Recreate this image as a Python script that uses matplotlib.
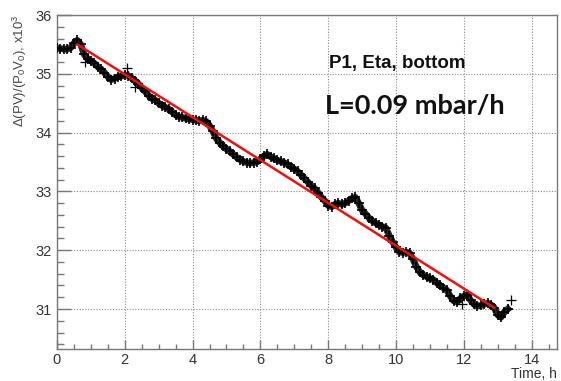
import matplotlib
matplotlib.use("Agg")
import matplotlib.pyplot as plt
from matplotlib.ticker import MultipleLocator

plt.rcParams['font.family'] = ['Liberation Sans', 'DejaVu Sans']
plt.rcParams['mathtext.fontset'] = 'custom'
plt.rcParams['mathtext.rm'] = 'Liberation Sans'
plt.rcParams['mathtext.it'] = 'Liberation Sans'

# time (h)
time_h = [0.0, 0.1, 0.2, 0.3, 0.4, 0.5, 0.6, 0.7, 0.8, 0.9,
          1.0, 1.1, 1.2, 1.3, 1.4, 1.5, 1.6, 1.7, 1.8, 1.9,
          2.0, 2.1, 2.2, 2.3, 2.4, 2.5, 2.6, 2.7, 2.8, 2.9,
          3.0, 3.1, 3.2, 3.3, 3.4, 3.5, 3.6, 3.7, 3.8, 3.9,
          4.0, 4.1, 4.2, 4.3, 4.4, 4.5, 4.6, 4.7, 4.8, 4.9,
          5.0, 5.1, 5.2, 5.3, 5.4, 5.5, 5.6, 5.7, 5.8, 5.9,
          6.0, 6.1, 6.2, 6.3, 6.4, 6.5, 6.6, 6.7, 6.8, 6.9,
          7.0, 7.1, 7.2, 7.3, 7.4, 7.5, 7.6, 7.7, 7.8, 7.9,
          8.0, 8.1, 8.2, 8.3, 8.4, 8.5, 8.6, 8.7, 8.8, 8.9,
          9.0, 9.1, 9.2, 9.3, 9.4, 9.5, 9.6, 9.7, 9.8, 9.9,
          10.0, 10.1, 10.2, 10.3, 10.4, 10.5, 10.6, 10.7, 10.8, 10.9,
          11.0, 11.1, 11.2, 11.3, 11.4, 11.5, 11.6, 11.7, 11.8, 11.9,
          12.0, 12.1, 12.2, 12.3, 12.4, 12.5, 12.6, 12.7, 12.8, 12.9,
          13.0, 13.1, 13.2, 13.3]
# Delta(PV)/(P0V0), x10^3
dpv = [35.44, 35.43, 35.42, 35.42, 35.44, 35.52, 35.57, 35.50, 35.33, 35.26,
       35.22, 35.18, 35.12, 35.08, 35.02, 34.95, 34.90, 34.92, 34.95, 34.96,
       34.98, 34.97, 34.93, 34.88, 34.83, 34.76, 34.70, 34.63, 34.58, 34.55,
       34.50, 34.46, 34.43, 34.40, 34.35, 34.30, 34.27, 34.26, 34.24, 34.23,
       34.22, 34.21, 34.20, 34.21, 34.19, 34.12, 34.02, 33.90, 33.83, 33.77,
       33.72, 33.68, 33.63, 33.58, 33.54, 33.51, 33.49, 33.48, 33.49, 33.50,
       33.55, 33.60, 33.63, 33.59, 33.56, 33.53, 33.51, 33.49, 33.46, 33.42,
       33.38, 33.34, 33.28, 33.22, 33.16, 33.10, 33.05, 32.98, 32.90, 32.84,
       32.76, 32.74, 32.78, 32.80, 32.78, 32.80, 32.84, 32.88, 32.90, 32.80,
       32.68, 32.62, 32.55, 32.50, 32.46, 32.43, 32.40, 32.38, 32.25, 32.14,
       32.05, 31.97, 31.96, 31.97, 31.95, 31.85, 31.72, 31.63, 31.58, 31.55,
       31.52, 31.50, 31.45, 31.40, 31.36, 31.32, 31.22, 31.14, 31.12, 31.18,
       31.22, 31.24, 31.15, 31.08, 31.05, 31.06, 31.08, 31.10, 31.07, 31.02,
       30.90, 30.86, 30.95, 31.00]
# isolated points
out_t = [0.82, 2.06, 2.3, 11.94, 13.4]
out_v = [35.20, 35.10, 34.78, 31.08, 31.15]
# linear fit endpoints
fit_t = [0.6, 12.9]
fit_v = [35.50, 31.02]

fig = plt.figure(figsize=(5.61, 3.81), dpi=100)
ax = fig.add_axes([0.1016, 0.084, 0.8913, 0.8766])

ax.plot(time_h, dpv, color='black', lw=4.8, alpha=0.85, zorder=2)
ax.plot(time_h, dpv, ls='none', marker='+', ms=7, mew=1.2, color='black', zorder=3)
ax.plot(out_t, out_v, ls='none', marker='+', ms=7, mew=0.9, color='black', zorder=3)
ax.plot(fit_t, fit_v, color='#ee1111', lw=1.8, zorder=4)

ax.set_xlim(0, 14.75)
ax.set_ylim(30.32, 36.0)
ax.xaxis.set_major_locator(MultipleLocator(2))
ax.xaxis.set_minor_locator(MultipleLocator(0.5))
ax.yaxis.set_major_locator(MultipleLocator(1))
ax.yaxis.set_minor_locator(MultipleLocator(0.2))

gc = '#777777'
ax.grid(True, which='major', ls=(0, (1, 1.5)), color='#888888', lw=0.8)
for s in ax.spines.values():
    s.set_color(gc)
    s.set_linewidth(1.0)
ax.tick_params(which='both', direction='in', color=gc, labelcolor='#333333',
               labelsize=10.5, top=False, right=False)
ax.tick_params(axis='y', which='major', length=10, width=1)
ax.tick_params(axis='y', which='minor', length=5, width=1)
ax.tick_params(axis='x', which='major', length=6.5, width=1, pad=3)
ax.tick_params(axis='x', which='minor', length=3.5, width=1)

ax.set_ylabel(r'$\Delta$(PV)/(P$_{0}$V$_{0}$), x10$^{3}$', color='#444444',
              fontsize=9.5, loc='top', labelpad=5)
fig.text(557 / 561, 1 - 374 / 381, 'Time, h', color='#333333', fontsize=10,
         ha='right', va='center')

ax.text(0.543, 0.84, 'P1, Eta, bottom', transform=ax.transAxes,
        fontsize=13.5, fontweight='bold', color='#111111')
ax.text(0.535, 0.705, 'L=0.09 mbar/h', transform=ax.transAxes,
        fontsize=19.5, fontweight='bold', color='#111111',
        family=['Lato', 'DejaVu Sans'])

fig.savefig('out.png', dpi=100)
